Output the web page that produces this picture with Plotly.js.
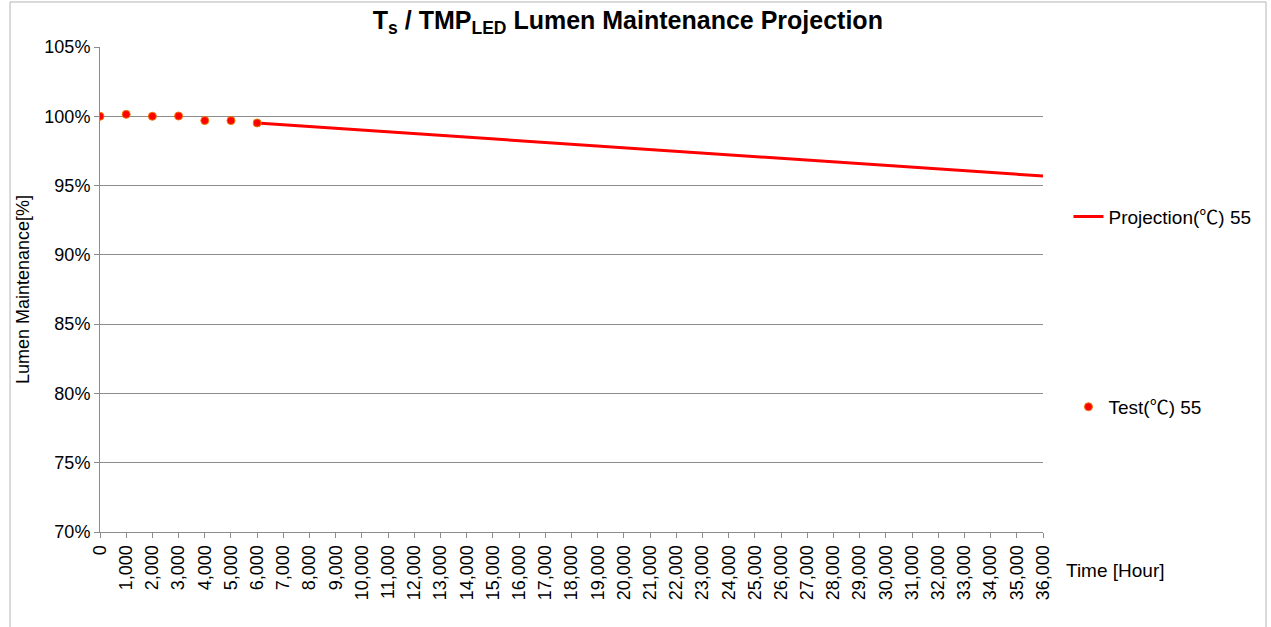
<!DOCTYPE html>
<html>
<head>
<meta charset="utf-8">
<script src="https://cdn.plot.ly/plotly-3.0.1.min.js"></script>
<style>html,body{margin:0;padding:0;background:#fff;}#chart{width:1271px;height:627px;}</style>
</head>
<body>
<div id="chart"></div>
<script>
// Data
const testHours = [0, 1000, 2000, 3000, 4000, 5000, 6000];
const testValues = [100.0, 100.14, 100.0, 100.02, 99.69, 99.69, 99.52];
const projHours = [6000, 36000];
const projValues = [99.52, 95.69];
const xTickVals = [0,1000,2000,3000,4000,5000,6000,7000,8000,9000,10000,11000,12000,13000,14000,15000,16000,17000,18000,19000,20000,21000,22000,23000,24000,25000,26000,27000,28000,29000,30000,31000,32000,33000,34000,35000,36000];
const yTickVals = [70, 75, 80, 85, 90, 95, 100, 105];
const yTickText = yTickVals.map(v => v + '%');

const FONT = 'Liberation Sans, Arial, sans-serif';
const GRID = '#8c8c8c';
const DEG = '<span style="font-family:\'Noto Sans CJK SC\'">℃</span>';

const traces = [
  {
    x: projHours, y: projValues, type: 'scatter', mode: 'lines',
    name: 'Projection(' + DEG + ') 55', line: {color: '#ff0000', width: 3},
    legend: 'legend', hoverinfo: 'skip'
  },
  {
    x: testHours, y: testValues, type: 'scatter', mode: 'markers',
    name: 'Test(' + DEG + ') 55',
    marker: {color: '#ff0000', size: 8, line: {color: '#f07a00', width: 1}},
    legend: 'legend2', hoverinfo: 'skip'
  }
];

const layout = {
  width: 1271, height: 627,
  margin: {l: 100, r: 228, t: 47, b: 95},
  paper_bgcolor: '#ffffff', plot_bgcolor: '#ffffff',
  font: {family: FONT, color: '#000000', size: 18},
  title: {
    text: '<b>T<sub>s</sub> / TMP<sub>LED</sub> Lumen Maintenance Projection</b>',
    font: {family: FONT, size: 25, color: '#000'},
    x: 0.494, xanchor: 'center', y: 0.968, yanchor: 'middle'
  },
  xaxis: {
    range: [0, 36000], tickvals: xTickVals, tickformat: ',d',
    tickangle: -90, showgrid: false, zeroline: false,
    showline: true, linecolor: GRID, linewidth: 1,
    ticks: 'outside', ticklen: 5, tickcolor: GRID,
    tickfont: {family: FONT, size: 18, color: '#000'}
  },
  yaxis: {
    range: [70, 105], tickvals: yTickVals, ticktext: yTickText,
    showgrid: true, gridcolor: GRID, gridwidth: 1, zeroline: false,
    showline: true, linecolor: GRID, linewidth: 1,
    ticks: 'outside', ticklen: 5, tickcolor: GRID,
    tickfont: {family: FONT, size: 18, color: '#000'},
    title: {text: 'Lumen Maintenance[%]', font: {family: FONT, size: 18, color: '#000'}, standoff: 10}
  },
  showlegend: true,
  legend: {
    x: 1.027, xanchor: 'left', y: 0.65, yanchor: 'middle',
    bgcolor: 'rgba(0,0,0,0)', font: {family: FONT, size: 19, color: '#000'}
  },
  legend2: {
    x: 1.027, xanchor: 'left', y: 0.258, yanchor: 'middle',
    bgcolor: 'rgba(0,0,0,0)', font: {family: FONT, size: 19, color: '#000'}
  },
  annotations: [
    {text: 'Time [Hour]', xref: 'paper', yref: 'paper', x: 1.022, y: -0.08,
     xanchor: 'left', yanchor: 'middle', showarrow: false,
     font: {family: FONT, size: 19, color: '#000'}}
  ],
  shapes: [
    {type: 'rect', xref: 'paper', yref: 'paper', x0: -0.0954, x1: 1.2365, y0: -0.25, y1: 1.0928,
     line: {color: '#b4b4b4', width: 1}, fillcolor: 'rgba(0,0,0,0)', layer: 'below'}
  ]
};

Plotly.newPlot('chart', traces, layout, {displayModeBar: false, staticPlot: true});
</script>
</body>
</html>
